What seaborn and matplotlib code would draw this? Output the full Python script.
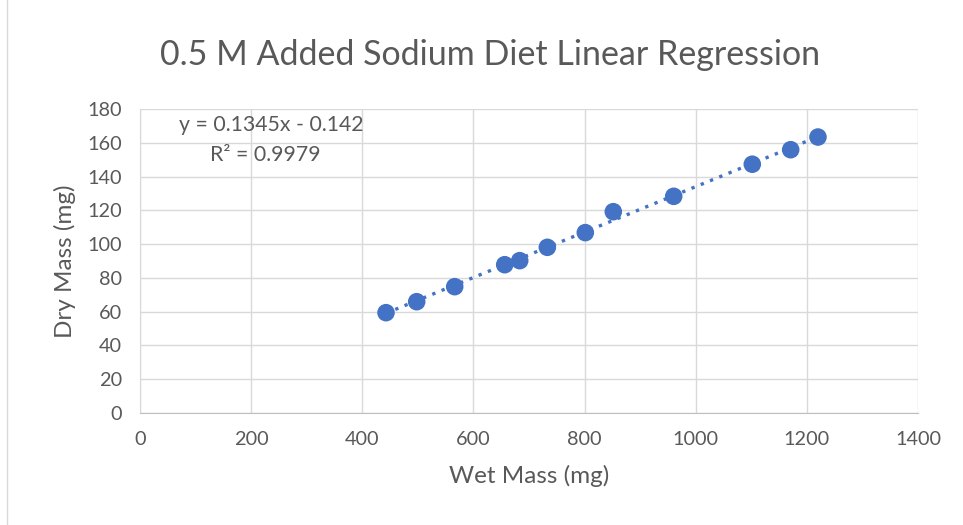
import numpy as np
import pandas as pd
import matplotlib
matplotlib.use("Agg")
import matplotlib.pyplot as plt
import seaborn as sns

wet_mass = [442.7, 497.9, 566.3, 656.3, 683.3, 733.0, 801.3, 851.7, 960.4, 1101.8, 1170.9, 1220.0]
dry_mass = [59.4, 65.9, 74.8, 87.8, 90.2, 98.1, 106.8, 119.2, 128.3, 147.3, 155.9, 163.4]
equation_text = "y = 0.1345x - 0.142"
r2_text = "R² = 0.9979"

df = pd.DataFrame({"Wet Mass (mg)": wet_mass, "Dry Mass (mg)": dry_mass})

sns.set_style("white")
plt.rcParams['font.family'] = ['Lato', 'DejaVu Sans']
text_col = '#595959'
grid_col = '#D9D9D9'
blue = '#4472C4'

fig = plt.figure(figsize=(9.63, 5.25), dpi=100)
ax = fig.add_axes([140 / 963, 1 - 413 / 525, 778 / 963, 304 / 525])

# chart border
fig.patches.append(plt.Rectangle((7 / 963, -0.01), 1.1, 1.1, transform=fig.transFigure,
                                 fill=False, edgecolor=grid_col, linewidth=1))

sns.regplot(data=df, x="Wet Mass (mg)", y="Dry Mass (mg)", ax=ax, ci=None,
            scatter_kws=dict(s=160, color=blue, edgecolor='none', alpha=1, zorder=3),
            line_kws=dict(color=blue, linestyle=(0, (1, 2)), linewidth=2.4, zorder=4))

ax.set_xlim(0, 1400)
ax.set_ylim(0, 180)
ax.set_xticks(np.arange(0, 1401, 200))
ax.set_yticks(np.arange(0, 181, 20))
ax.grid(True, color=grid_col, linewidth=1)
ax.set_axisbelow(True)
for s in ax.spines.values():
    s.set_visible(False)
ax.spines['left'].set_visible(True)
ax.spines['bottom'].set_visible(True)
ax.spines['left'].set_color(grid_col)
ax.spines['bottom'].set_color('#BFBFBF')
ax.tick_params(length=0, pad=13, labelsize=14.3, colors=text_col)

ax.set_xlabel("Wet Mass (mg)", fontsize=17.5, color=text_col, labelpad=12)
ax.set_ylabel("Dry Mass (mg)", fontsize=17.5, color=text_col, labelpad=8)
fig.text(490 / 963, 1 - 55 / 525, "0.5 M Added Sodium Diet Linear Regression",
         ha='center', va='center', fontsize=24.5, color=text_col)

ax.text(236, 170.5, equation_text, ha='center', va='center', fontsize=15.3, color=text_col)
ax.text(225, 152.8, r2_text, ha='center', va='center', fontsize=15.3, color=text_col)

fig.savefig("out.png", dpi=100)
